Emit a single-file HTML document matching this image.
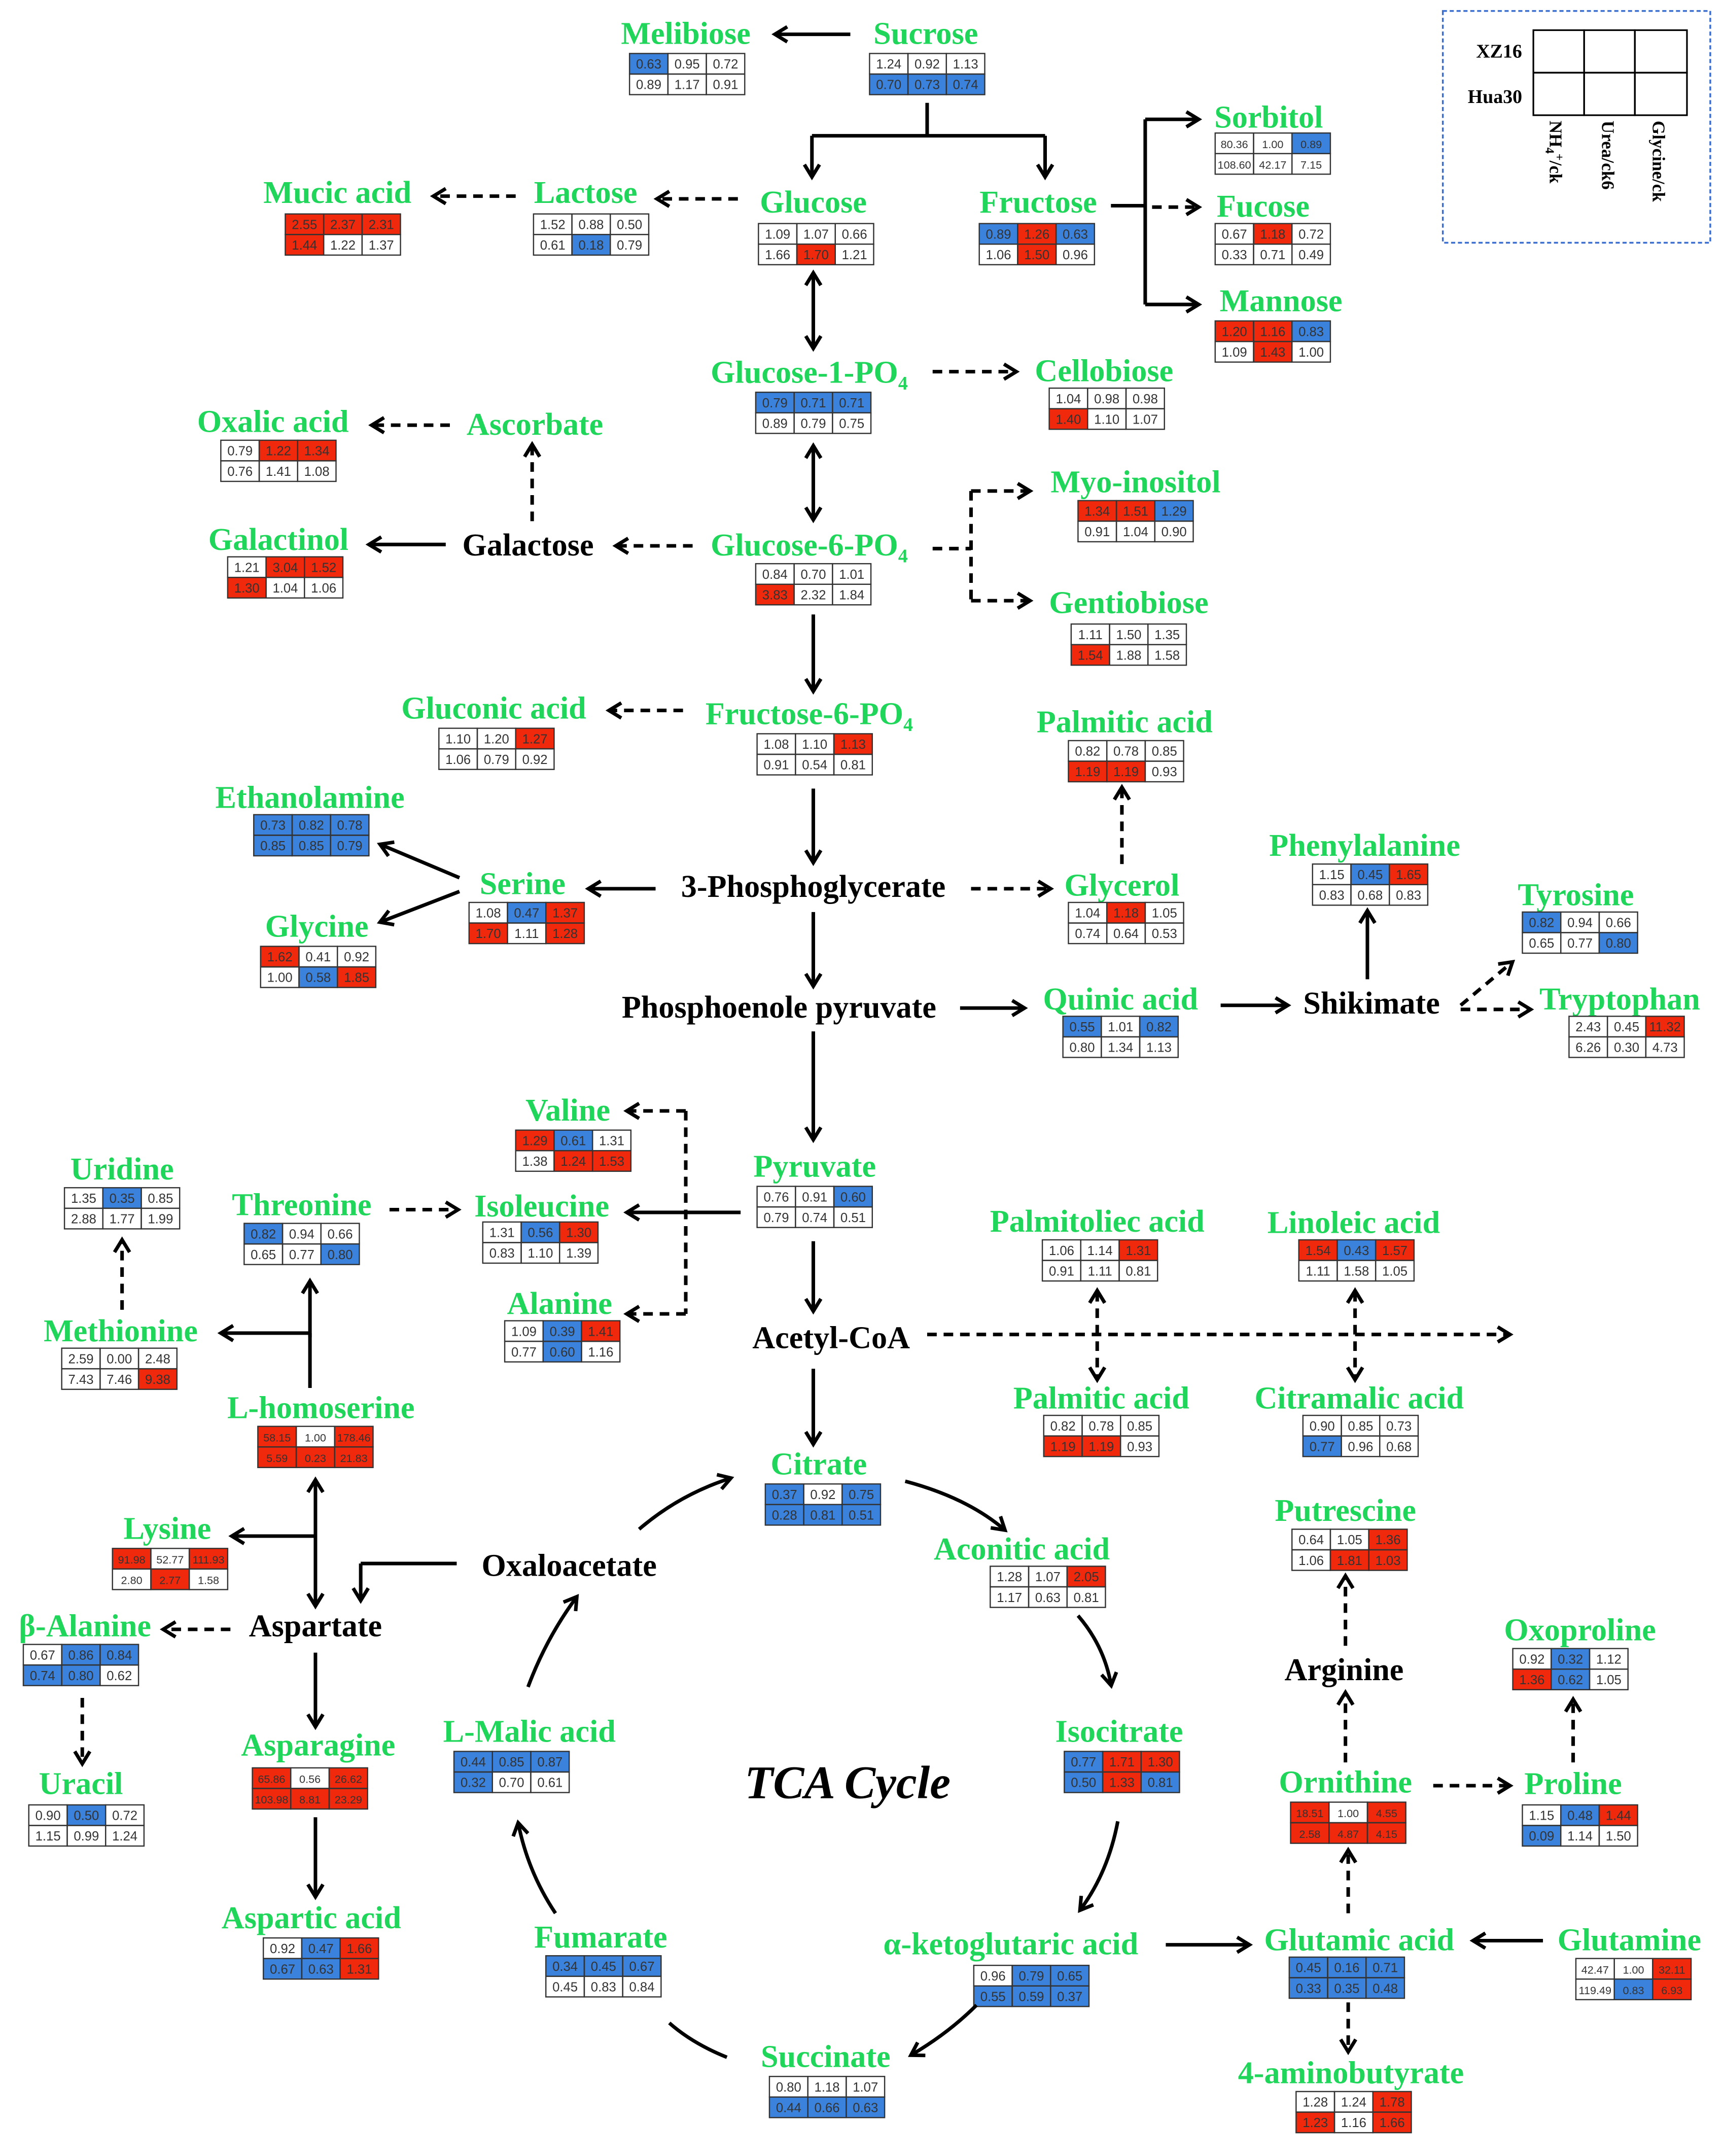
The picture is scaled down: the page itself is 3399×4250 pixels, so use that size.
<!DOCTYPE html>
<html><head><meta charset="utf-8"><style>
html,body{margin:0;padding:0;background:#fff}
svg{display:block}
.g{fill:#1fd65a;font-family:"Liberation Serif",serif;font-weight:bold;font-size:23px;text-anchor:middle}
.k{fill:#000;font-family:"Liberation Serif",serif;font-weight:bold;font-size:23px;text-anchor:middle}
.v{fill:#333;font-family:"Liberation Sans",sans-serif;font-size:9.5px;text-anchor:middle}
.s{font-size:8px}
.r{fill:#f0290c}
.b{fill:#3a82dc}
.l{stroke:#000;stroke-width:2.6;fill:none;marker-end:url(#a)}
.d{stroke:#000;stroke-width:2.6;fill:none;stroke-dasharray:7,5;marker-end:url(#a)}
.n{stroke:#000;stroke-width:2.6;fill:none}
.nd{stroke:#000;stroke-width:2.6;fill:none;stroke-dasharray:7,5}
.bi{marker-start:url(#a)}
</style></head><body>
<svg xmlns="http://www.w3.org/2000/svg" width="3399" height="4250" viewBox="0 0 1257 1572" preserveAspectRatio="none">
<defs>
<marker id="a" markerUnits="userSpaceOnUse" markerWidth="14" markerHeight="14" refX="10" refY="7" orient="auto-start-reverse"><path d="M2,1.5 L11,7 L2,12.5" stroke="#000" stroke-width="2.6" fill="none"/></marker>
<g id="tb" fill="none" stroke="#333" stroke-width="0.9"><rect x="0" y="0" width="28" height="15"/><rect x="28" y="0" width="28" height="15"/><rect x="56" y="0" width="28" height="15"/><rect x="0" y="15" width="28" height="15"/><rect x="28" y="15" width="28" height="15"/><rect x="56" y="15" width="28" height="15"/></g>
</defs>
<rect width="1257" height="1572" fill="#fff"/>

<!-- Legend -->
<rect x="1052" y="8" width="195" height="169" fill="none" stroke="#3a6fd0" stroke-width="1.3" stroke-dasharray="3,2"/>
<g fill="none" stroke="#000" stroke-width="1.2"><rect x="1118" y="22" width="37" height="31"/><rect x="1155" y="22" width="37" height="31"/><rect x="1192" y="22" width="38" height="31"/><rect x="1118" y="53" width="37" height="31"/><rect x="1155" y="53" width="37" height="31"/><rect x="1192" y="53" width="38" height="31"/></g>
<text x="1093" y="42" class="k" style="font-size:14px">XZ16</text>
<text x="1090" y="75" class="k" style="font-size:14px">Hua30</text>
<text class="k" style="font-size:13px;text-anchor:start" transform="translate(1130,88) rotate(90)">NH<tspan font-size="9" dy="3">4</tspan><tspan font-size="9" dy="-7">+</tspan><tspan dy="4">/ck</tspan></text>
<text class="k" style="font-size:13px;text-anchor:start" transform="translate(1168,88) rotate(90)">Urea/ck6</text>
<text class="k" style="font-size:13px;text-anchor:start" transform="translate(1205,88) rotate(90)">Glycine/ck</text>

<!-- Labels -->
<text class="g" x="500" y="32">Melibiose</text>
<text class="g" x="675" y="32">Sucrose</text>
<text class="g" x="925" y="93">Sorbitol</text>
<text class="g" x="246" y="148">Mucic acid</text>
<text class="g" x="427" y="148">Lactose</text>
<text class="g" x="593" y="155">Glucose</text>
<text class="g" x="757" y="155">Fructose</text>
<text class="g" x="921" y="158">Fucose</text>
<text class="g" x="934" y="227">Mannose</text>
<text class="g" x="590" y="279">Glucose-1-PO<tspan font-size="14" dy="5">4</tspan></text>
<text class="g" x="805" y="278">Cellobiose</text>
<text class="g" x="199" y="315">Oxalic acid</text>
<text class="g" x="390" y="317">Ascorbate</text>
<text class="g" x="828" y="359">Myo-inositol</text>
<text class="g" x="203" y="401">Galactinol</text>
<text class="k" x="385" y="405">Galactose</text>
<text class="g" x="590" y="405">Glucose-6-PO<tspan font-size="14" dy="5">4</tspan></text>
<text class="g" x="823" y="447">Gentiobiose</text>
<text class="g" x="360" y="524">Gluconic acid</text>
<text class="g" x="590" y="528">Fructose-6-PO<tspan font-size="14" dy="5">4</tspan></text>
<text class="g" x="820" y="534">Palmitic acid</text>
<text class="g" x="226" y="589">Ethanolamine</text>
<text class="g" x="381" y="652">Serine</text>
<text class="k" x="593" y="654">3-Phosphoglycerate</text>
<text class="g" x="818" y="653">Glycerol</text>
<text class="g" x="995" y="624">Phenylalanine</text>
<text class="g" x="231" y="683">Glycine</text>
<text class="g" x="1149" y="660">Tyrosine</text>
<text class="k" x="568" y="742">Phosphoenole pyruvate</text>
<text class="g" x="817" y="736">Quinic acid</text>
<text class="k" x="1000" y="739">Shikimate</text>
<text class="g" x="1181" y="736">Tryptophan</text>
<text class="g" x="414" y="817">Valine</text>
<text class="g" x="89" y="860">Uridine</text>
<text class="g" x="594" y="858">Pyruvate</text>
<text class="g" x="220" y="886">Threonine</text>
<text class="g" x="395" y="887">Isoleucine</text>
<text class="g" x="800" y="898">Palmitoliec acid</text>
<text class="g" x="987" y="899">Linoleic acid</text>
<text class="g" x="408" y="958">Alanine</text>
<text class="k" x="606" y="983">Acetyl-CoA</text>
<text class="g" x="88" y="978">Methionine</text>
<text class="g" x="803" y="1027">Palmitic acid</text>
<text class="g" x="991" y="1027">Citramalic acid</text>
<text class="g" x="234" y="1034">L-homoserine</text>
<text class="g" x="597" y="1075">Citrate</text>
<text class="g" x="981" y="1109">Putrescine</text>
<text class="g" x="122" y="1122">Lysine</text>
<text class="g" x="745" y="1137">Aconitic acid</text>
<text class="k" x="415" y="1149">Oxaloacetate</text>
<text class="g" x="62" y="1193">β-Alanine</text>
<text class="k" x="230" y="1193">Aspartate</text>
<text class="g" x="1152" y="1196">Oxoproline</text>
<text class="k" x="980" y="1225">Arginine</text>
<text class="g" x="232" y="1280">Asparagine</text>
<text class="g" x="386" y="1270">L-Malic acid</text>
<text class="g" x="816" y="1270">Isocitrate</text>
<text class="g" x="59" y="1308">Uracil</text>
<text class="k" x="618" y="1311" style="font-style:italic;font-size:34px">TCA Cycle</text>
<text class="g" x="981" y="1307">Ornithine</text>
<text class="g" x="1147" y="1308">Proline</text>
<text class="g" x="227" y="1406">Aspartic acid</text>
<text class="g" x="438" y="1420">Fumarate</text>
<text class="g" x="737" y="1425">α-ketoglutaric acid</text>
<text class="g" x="991" y="1422">Glutamic acid</text>
<text class="g" x="1188" y="1422">Glutamine</text>
<text class="g" x="602" y="1507">Succinate</text>
<text class="g" x="985" y="1519">4-aminobutyrate</text>

<!-- Tables -->
<g transform="translate(459,39)"><rect class="b" x="0" y="0" width="28" height="15"/><use href="#tb"/><text class="v" y="11"><tspan x="14">0.63</tspan><tspan x="42">0.95</tspan><tspan x="70">0.72</tspan></text><text class="v" y="26"><tspan x="14">0.89</tspan><tspan x="42">1.17</tspan><tspan x="70">0.91</tspan></text></g>
<g transform="translate(634,39)"><rect class="b" x="0" y="15" width="84" height="15"/><use href="#tb"/><text class="v" y="11"><tspan x="14">1.24</tspan><tspan x="42">0.92</tspan><tspan x="70">1.13</tspan></text><text class="v" y="26"><tspan x="14">0.70</tspan><tspan x="42">0.73</tspan><tspan x="70">0.74</tspan></text></g>
<g transform="translate(886,97)"><rect class="b" x="56" y="0" width="28" height="15"/><use href="#tb"/><text class="v s" y="11"><tspan x="14">80.36</tspan><tspan x="42">1.00</tspan><tspan x="70">0.89</tspan></text><text class="v s" y="26"><tspan x="14">108.60</tspan><tspan x="42">42.17</tspan><tspan x="70">7.15</tspan></text></g>
<g transform="translate(208,156)"><rect class="r" x="0" y="0" width="84" height="15"/><rect class="r" x="0" y="15" width="28" height="15"/><use href="#tb"/><text class="v" y="11"><tspan x="14">2.55</tspan><tspan x="42">2.37</tspan><tspan x="70">2.31</tspan></text><text class="v" y="26"><tspan x="14">1.44</tspan><tspan x="42">1.22</tspan><tspan x="70">1.37</tspan></text></g>
<g transform="translate(389,156)"><rect class="b" x="28" y="15" width="28" height="15"/><use href="#tb"/><text class="v" y="11"><tspan x="14">1.52</tspan><tspan x="42">0.88</tspan><tspan x="70">0.50</tspan></text><text class="v" y="26"><tspan x="14">0.61</tspan><tspan x="42">0.18</tspan><tspan x="70">0.79</tspan></text></g>
<g transform="translate(553,163)"><rect class="r" x="28" y="15" width="28" height="15"/><use href="#tb"/><text class="v" y="11"><tspan x="14">1.09</tspan><tspan x="42">1.07</tspan><tspan x="70">0.66</tspan></text><text class="v" y="26"><tspan x="14">1.66</tspan><tspan x="42">1.70</tspan><tspan x="70">1.21</tspan></text></g>
<g transform="translate(714,163)"><rect class="b" x="0" y="0" width="28" height="15"/><rect class="r" x="28" y="0" width="28" height="15"/><rect class="b" x="56" y="0" width="28" height="15"/><rect class="r" x="28" y="15" width="28" height="15"/><use href="#tb"/><text class="v" y="11"><tspan x="14">0.89</tspan><tspan x="42">1.26</tspan><tspan x="70">0.63</tspan></text><text class="v" y="26"><tspan x="14">1.06</tspan><tspan x="42">1.50</tspan><tspan x="70">0.96</tspan></text></g>
<g transform="translate(886,163)"><rect class="r" x="28" y="0" width="28" height="15"/><use href="#tb"/><text class="v" y="11"><tspan x="14">0.67</tspan><tspan x="42">1.18</tspan><tspan x="70">0.72</tspan></text><text class="v" y="26"><tspan x="14">0.33</tspan><tspan x="42">0.71</tspan><tspan x="70">0.49</tspan></text></g>
<g transform="translate(886,234)"><rect class="r" x="0" y="0" width="56" height="15"/><rect class="b" x="56" y="0" width="28" height="15"/><rect class="r" x="28" y="15" width="28" height="15"/><use href="#tb"/><text class="v" y="11"><tspan x="14">1.20</tspan><tspan x="42">1.16</tspan><tspan x="70">0.83</tspan></text><text class="v" y="26"><tspan x="14">1.09</tspan><tspan x="42">1.43</tspan><tspan x="70">1.00</tspan></text></g>
<g transform="translate(551,286)"><rect class="b" x="0" y="0" width="84" height="15"/><use href="#tb"/><text class="v" y="11"><tspan x="14">0.79</tspan><tspan x="42">0.71</tspan><tspan x="70">0.71</tspan></text><text class="v" y="26"><tspan x="14">0.89</tspan><tspan x="42">0.79</tspan><tspan x="70">0.75</tspan></text></g>
<g transform="translate(765,283)"><rect class="r" x="0" y="15" width="28" height="15"/><use href="#tb"/><text class="v" y="11"><tspan x="14">1.04</tspan><tspan x="42">0.98</tspan><tspan x="70">0.98</tspan></text><text class="v" y="26"><tspan x="14">1.40</tspan><tspan x="42">1.10</tspan><tspan x="70">1.07</tspan></text></g>
<g transform="translate(161,321)"><rect class="r" x="28" y="0" width="56" height="15"/><use href="#tb"/><text class="v" y="11"><tspan x="14">0.79</tspan><tspan x="42">1.22</tspan><tspan x="70">1.34</tspan></text><text class="v" y="26"><tspan x="14">0.76</tspan><tspan x="42">1.41</tspan><tspan x="70">1.08</tspan></text></g>
<g transform="translate(786,365)"><rect class="r" x="0" y="0" width="56" height="15"/><rect class="b" x="56" y="0" width="28" height="15"/><use href="#tb"/><text class="v" y="11"><tspan x="14">1.34</tspan><tspan x="42">1.51</tspan><tspan x="70">1.29</tspan></text><text class="v" y="26"><tspan x="14">0.91</tspan><tspan x="42">1.04</tspan><tspan x="70">0.90</tspan></text></g>
<g transform="translate(166,406)"><rect class="r" x="28" y="0" width="56" height="15"/><rect class="r" x="0" y="15" width="28" height="15"/><use href="#tb"/><text class="v" y="11"><tspan x="14">1.21</tspan><tspan x="42">3.04</tspan><tspan x="70">1.52</tspan></text><text class="v" y="26"><tspan x="14">1.30</tspan><tspan x="42">1.04</tspan><tspan x="70">1.06</tspan></text></g>
<g transform="translate(551,411)"><rect class="r" x="0" y="15" width="28" height="15"/><use href="#tb"/><text class="v" y="11"><tspan x="14">0.84</tspan><tspan x="42">0.70</tspan><tspan x="70">1.01</tspan></text><text class="v" y="26"><tspan x="14">3.83</tspan><tspan x="42">2.32</tspan><tspan x="70">1.84</tspan></text></g>
<g transform="translate(781,455)"><rect class="r" x="0" y="15" width="28" height="15"/><use href="#tb"/><text class="v" y="11"><tspan x="14">1.11</tspan><tspan x="42">1.50</tspan><tspan x="70">1.35</tspan></text><text class="v" y="26"><tspan x="14">1.54</tspan><tspan x="42">1.88</tspan><tspan x="70">1.58</tspan></text></g>
<g transform="translate(320,531)"><rect class="r" x="56" y="0" width="28" height="15"/><use href="#tb"/><text class="v" y="11"><tspan x="14">1.10</tspan><tspan x="42">1.20</tspan><tspan x="70">1.27</tspan></text><text class="v" y="26"><tspan x="14">1.06</tspan><tspan x="42">0.79</tspan><tspan x="70">0.92</tspan></text></g>
<g transform="translate(552,535)"><rect class="r" x="56" y="0" width="28" height="15"/><use href="#tb"/><text class="v" y="11"><tspan x="14">1.08</tspan><tspan x="42">1.10</tspan><tspan x="70">1.13</tspan></text><text class="v" y="26"><tspan x="14">0.91</tspan><tspan x="42">0.54</tspan><tspan x="70">0.81</tspan></text></g>
<g transform="translate(779,540)"><rect class="r" x="0" y="15" width="56" height="15"/><use href="#tb"/><text class="v" y="11"><tspan x="14">0.82</tspan><tspan x="42">0.78</tspan><tspan x="70">0.85</tspan></text><text class="v" y="26"><tspan x="14">1.19</tspan><tspan x="42">1.19</tspan><tspan x="70">0.93</tspan></text></g>
<g transform="translate(185,594)"><rect class="b" x="0" y="0" width="84" height="30"/><use href="#tb"/><text class="v" y="11"><tspan x="14">0.73</tspan><tspan x="42">0.82</tspan><tspan x="70">0.78</tspan></text><text class="v" y="26"><tspan x="14">0.85</tspan><tspan x="42">0.85</tspan><tspan x="70">0.79</tspan></text></g>
<g transform="translate(342,658)"><rect class="b" x="28" y="0" width="28" height="15"/><rect class="r" x="56" y="0" width="28" height="15"/><rect class="r" x="0" y="15" width="28" height="15"/><rect class="r" x="56" y="15" width="28" height="15"/><use href="#tb"/><text class="v" y="11"><tspan x="14">1.08</tspan><tspan x="42">0.47</tspan><tspan x="70">1.37</tspan></text><text class="v" y="26"><tspan x="14">1.70</tspan><tspan x="42">1.11</tspan><tspan x="70">1.28</tspan></text></g>
<g transform="translate(779,658)"><rect class="r" x="28" y="0" width="28" height="15"/><use href="#tb"/><text class="v" y="11"><tspan x="14">1.04</tspan><tspan x="42">1.18</tspan><tspan x="70">1.05</tspan></text><text class="v" y="26"><tspan x="14">0.74</tspan><tspan x="42">0.64</tspan><tspan x="70">0.53</tspan></text></g>
<g transform="translate(957,630)"><rect class="b" x="28" y="0" width="28" height="15"/><rect class="r" x="56" y="0" width="28" height="15"/><use href="#tb"/><text class="v" y="11"><tspan x="14">1.15</tspan><tspan x="42">0.45</tspan><tspan x="70">1.65</tspan></text><text class="v" y="26"><tspan x="14">0.83</tspan><tspan x="42">0.68</tspan><tspan x="70">0.83</tspan></text></g>
<g transform="translate(190,690)"><rect class="r" x="0" y="0" width="28" height="15"/><rect class="b" x="28" y="15" width="28" height="15"/><rect class="r" x="56" y="15" width="28" height="15"/><use href="#tb"/><text class="v" y="11"><tspan x="14">1.62</tspan><tspan x="42">0.41</tspan><tspan x="70">0.92</tspan></text><text class="v" y="26"><tspan x="14">1.00</tspan><tspan x="42">0.58</tspan><tspan x="70">1.85</tspan></text></g>
<g transform="translate(1110,665)"><rect class="b" x="0" y="0" width="28" height="15"/><rect class="b" x="56" y="15" width="28" height="15"/><use href="#tb"/><text class="v" y="11"><tspan x="14">0.82</tspan><tspan x="42">0.94</tspan><tspan x="70">0.66</tspan></text><text class="v" y="26"><tspan x="14">0.65</tspan><tspan x="42">0.77</tspan><tspan x="70">0.80</tspan></text></g>
<g transform="translate(775,741)"><rect class="b" x="0" y="0" width="28" height="15"/><rect class="b" x="56" y="0" width="28" height="15"/><use href="#tb"/><text class="v" y="11"><tspan x="14">0.55</tspan><tspan x="42">1.01</tspan><tspan x="70">0.82</tspan></text><text class="v" y="26"><tspan x="14">0.80</tspan><tspan x="42">1.34</tspan><tspan x="70">1.13</tspan></text></g>
<g transform="translate(1144,741)"><rect class="r" x="56" y="0" width="28" height="15"/><use href="#tb"/><text class="v" y="11"><tspan x="14">2.43</tspan><tspan x="42">0.45</tspan><tspan x="70">11.32</tspan></text><text class="v" y="26"><tspan x="14">6.26</tspan><tspan x="42">0.30</tspan><tspan x="70">4.73</tspan></text></g>
<g transform="translate(376,824)"><rect class="r" x="0" y="0" width="28" height="15"/><rect class="b" x="28" y="0" width="28" height="15"/><rect class="r" x="28" y="15" width="56" height="15"/><use href="#tb"/><text class="v" y="11"><tspan x="14">1.29</tspan><tspan x="42">0.61</tspan><tspan x="70">1.31</tspan></text><text class="v" y="26"><tspan x="14">1.38</tspan><tspan x="42">1.24</tspan><tspan x="70">1.53</tspan></text></g>
<g transform="translate(47,866)"><rect class="b" x="28" y="0" width="28" height="15"/><use href="#tb"/><text class="v" y="11"><tspan x="14">1.35</tspan><tspan x="42">0.35</tspan><tspan x="70">0.85</tspan></text><text class="v" y="26"><tspan x="14">2.88</tspan><tspan x="42">1.77</tspan><tspan x="70">1.99</tspan></text></g>
<g transform="translate(552,865)"><rect class="b" x="56" y="0" width="28" height="15"/><use href="#tb"/><text class="v" y="11"><tspan x="14">0.76</tspan><tspan x="42">0.91</tspan><tspan x="70">0.60</tspan></text><text class="v" y="26"><tspan x="14">0.79</tspan><tspan x="42">0.74</tspan><tspan x="70">0.51</tspan></text></g>
<g transform="translate(178,892)"><rect class="b" x="0" y="0" width="28" height="15"/><rect class="b" x="56" y="15" width="28" height="15"/><use href="#tb"/><text class="v" y="11"><tspan x="14">0.82</tspan><tspan x="42">0.94</tspan><tspan x="70">0.66</tspan></text><text class="v" y="26"><tspan x="14">0.65</tspan><tspan x="42">0.77</tspan><tspan x="70">0.80</tspan></text></g>
<g transform="translate(352,891)"><rect class="b" x="28" y="0" width="28" height="15"/><rect class="r" x="56" y="0" width="28" height="15"/><use href="#tb"/><text class="v" y="11"><tspan x="14">1.31</tspan><tspan x="42">0.56</tspan><tspan x="70">1.30</tspan></text><text class="v" y="26"><tspan x="14">0.83</tspan><tspan x="42">1.10</tspan><tspan x="70">1.39</tspan></text></g>
<g transform="translate(760,904)"><rect class="r" x="56" y="0" width="28" height="15"/><use href="#tb"/><text class="v" y="11"><tspan x="14">1.06</tspan><tspan x="42">1.14</tspan><tspan x="70">1.31</tspan></text><text class="v" y="26"><tspan x="14">0.91</tspan><tspan x="42">1.11</tspan><tspan x="70">0.81</tspan></text></g>
<g transform="translate(947,904)"><rect class="r" x="0" y="0" width="28" height="15"/><rect class="b" x="28" y="0" width="28" height="15"/><rect class="r" x="56" y="0" width="28" height="15"/><use href="#tb"/><text class="v" y="11"><tspan x="14">1.54</tspan><tspan x="42">0.43</tspan><tspan x="70">1.57</tspan></text><text class="v" y="26"><tspan x="14">1.11</tspan><tspan x="42">1.58</tspan><tspan x="70">1.05</tspan></text></g>
<g transform="translate(368,963)"><rect class="b" x="28" y="0" width="28" height="15"/><rect class="r" x="56" y="0" width="28" height="15"/><rect class="b" x="28" y="15" width="28" height="15"/><use href="#tb"/><text class="v" y="11"><tspan x="14">1.09</tspan><tspan x="42">0.39</tspan><tspan x="70">1.41</tspan></text><text class="v" y="26"><tspan x="14">0.77</tspan><tspan x="42">0.60</tspan><tspan x="70">1.16</tspan></text></g>
<g transform="translate(45,983)"><rect class="r" x="56" y="15" width="28" height="15"/><use href="#tb"/><text class="v" y="11"><tspan x="14">2.59</tspan><tspan x="42">0.00</tspan><tspan x="70">2.48</tspan></text><text class="v" y="26"><tspan x="14">7.43</tspan><tspan x="42">7.46</tspan><tspan x="70">9.38</tspan></text></g>
<g transform="translate(761,1032)"><rect class="r" x="0" y="15" width="56" height="15"/><use href="#tb"/><text class="v" y="11"><tspan x="14">0.82</tspan><tspan x="42">0.78</tspan><tspan x="70">0.85</tspan></text><text class="v" y="26"><tspan x="14">1.19</tspan><tspan x="42">1.19</tspan><tspan x="70">0.93</tspan></text></g>
<g transform="translate(950,1032)"><rect class="b" x="0" y="15" width="28" height="15"/><use href="#tb"/><text class="v" y="11"><tspan x="14">0.90</tspan><tspan x="42">0.85</tspan><tspan x="70">0.73</tspan></text><text class="v" y="26"><tspan x="14">0.77</tspan><tspan x="42">0.96</tspan><tspan x="70">0.68</tspan></text></g>
<g transform="translate(188,1040)"><rect class="r" x="0" y="0" width="28" height="15"/><rect class="r" x="56" y="0" width="28" height="15"/><rect class="r" x="0" y="15" width="84" height="15"/><use href="#tb"/><text class="v s" y="11"><tspan x="14">58.15</tspan><tspan x="42">1.00</tspan><tspan x="70">178.46</tspan></text><text class="v s" y="26"><tspan x="14">5.59</tspan><tspan x="42">0.23</tspan><tspan x="70">21.83</tspan></text></g>
<g transform="translate(558,1082)"><rect class="b" x="0" y="0" width="28" height="15"/><rect class="b" x="56" y="0" width="28" height="15"/><rect class="b" x="0" y="15" width="84" height="15"/><use href="#tb"/><text class="v" y="11"><tspan x="14">0.37</tspan><tspan x="42">0.92</tspan><tspan x="70">0.75</tspan></text><text class="v" y="26"><tspan x="14">0.28</tspan><tspan x="42">0.81</tspan><tspan x="70">0.51</tspan></text></g>
<g transform="translate(942,1115)"><rect class="r" x="56" y="0" width="28" height="15"/><rect class="r" x="28" y="15" width="56" height="15"/><use href="#tb"/><text class="v" y="11"><tspan x="14">0.64</tspan><tspan x="42">1.05</tspan><tspan x="70">1.36</tspan></text><text class="v" y="26"><tspan x="14">1.06</tspan><tspan x="42">1.81</tspan><tspan x="70">1.03</tspan></text></g>
<g transform="translate(82,1129)"><rect class="r" x="0" y="0" width="28" height="15"/><rect class="r" x="56" y="0" width="28" height="15"/><rect class="r" x="28" y="15" width="28" height="15"/><use href="#tb"/><text class="v s" y="11"><tspan x="14">91.98</tspan><tspan x="42">52.77</tspan><tspan x="70">111.93</tspan></text><text class="v s" y="26"><tspan x="14">2.80</tspan><tspan x="42">2.77</tspan><tspan x="70">1.58</tspan></text></g>
<g transform="translate(722,1142)"><rect class="r" x="56" y="0" width="28" height="15"/><use href="#tb"/><text class="v" y="11"><tspan x="14">1.28</tspan><tspan x="42">1.07</tspan><tspan x="70">2.05</tspan></text><text class="v" y="26"><tspan x="14">1.17</tspan><tspan x="42">0.63</tspan><tspan x="70">0.81</tspan></text></g>
<g transform="translate(17,1199)"><rect class="b" x="28" y="0" width="56" height="15"/><rect class="b" x="0" y="15" width="56" height="15"/><use href="#tb"/><text class="v" y="11"><tspan x="14">0.67</tspan><tspan x="42">0.86</tspan><tspan x="70">0.84</tspan></text><text class="v" y="26"><tspan x="14">0.74</tspan><tspan x="42">0.80</tspan><tspan x="70">0.62</tspan></text></g>
<g transform="translate(1103,1202)"><rect class="b" x="28" y="0" width="28" height="15"/><rect class="r" x="0" y="15" width="28" height="15"/><rect class="b" x="28" y="15" width="28" height="15"/><use href="#tb"/><text class="v" y="11"><tspan x="14">0.92</tspan><tspan x="42">0.32</tspan><tspan x="70">1.12</tspan></text><text class="v" y="26"><tspan x="14">1.36</tspan><tspan x="42">0.62</tspan><tspan x="70">1.05</tspan></text></g>
<g transform="translate(184,1289)"><rect class="r" x="0" y="0" width="28" height="15"/><rect class="r" x="56" y="0" width="28" height="15"/><rect class="r" x="0" y="15" width="84" height="15"/><use href="#tb"/><text class="v s" y="11"><tspan x="14">65.86</tspan><tspan x="42">0.56</tspan><tspan x="70">26.62</tspan></text><text class="v s" y="26"><tspan x="14">103.98</tspan><tspan x="42">8.81</tspan><tspan x="70">23.29</tspan></text></g>
<g transform="translate(331,1277)"><rect class="b" x="0" y="0" width="84" height="15"/><rect class="b" x="0" y="15" width="28" height="15"/><use href="#tb"/><text class="v" y="11"><tspan x="14">0.44</tspan><tspan x="42">0.85</tspan><tspan x="70">0.87</tspan></text><text class="v" y="26"><tspan x="14">0.32</tspan><tspan x="42">0.70</tspan><tspan x="70">0.61</tspan></text></g>
<g transform="translate(776,1277)"><rect class="b" x="0" y="0" width="28" height="15"/><rect class="r" x="28" y="0" width="56" height="15"/><rect class="b" x="0" y="15" width="28" height="15"/><rect class="r" x="28" y="15" width="28" height="15"/><rect class="b" x="56" y="15" width="28" height="15"/><use href="#tb"/><text class="v" y="11"><tspan x="14">0.77</tspan><tspan x="42">1.71</tspan><tspan x="70">1.30</tspan></text><text class="v" y="26"><tspan x="14">0.50</tspan><tspan x="42">1.33</tspan><tspan x="70">0.81</tspan></text></g>
<g transform="translate(21,1316)"><rect class="b" x="28" y="0" width="28" height="15"/><use href="#tb"/><text class="v" y="11"><tspan x="14">0.90</tspan><tspan x="42">0.50</tspan><tspan x="70">0.72</tspan></text><text class="v" y="26"><tspan x="14">1.15</tspan><tspan x="42">0.99</tspan><tspan x="70">1.24</tspan></text></g>
<g transform="translate(941,1314)"><rect class="r" x="0" y="0" width="28" height="15"/><rect class="r" x="56" y="0" width="28" height="15"/><rect class="r" x="0" y="15" width="84" height="15"/><use href="#tb"/><text class="v s" y="11"><tspan x="14">18.51</tspan><tspan x="42">1.00</tspan><tspan x="70">4.55</tspan></text><text class="v s" y="26"><tspan x="14">2.58</tspan><tspan x="42">4.87</tspan><tspan x="70">4.15</tspan></text></g>
<g transform="translate(1110,1316)"><rect class="b" x="28" y="0" width="28" height="15"/><rect class="r" x="56" y="0" width="28" height="15"/><rect class="b" x="0" y="15" width="28" height="15"/><use href="#tb"/><text class="v" y="11"><tspan x="14">1.15</tspan><tspan x="42">0.48</tspan><tspan x="70">1.44</tspan></text><text class="v" y="26"><tspan x="14">0.09</tspan><tspan x="42">1.14</tspan><tspan x="70">1.50</tspan></text></g>
<g transform="translate(192,1413)"><rect class="b" x="28" y="0" width="28" height="15"/><rect class="r" x="56" y="0" width="28" height="15"/><rect class="b" x="0" y="15" width="56" height="15"/><rect class="r" x="56" y="15" width="28" height="15"/><use href="#tb"/><text class="v" y="11"><tspan x="14">0.92</tspan><tspan x="42">0.47</tspan><tspan x="70">1.66</tspan></text><text class="v" y="26"><tspan x="14">0.67</tspan><tspan x="42">0.63</tspan><tspan x="70">1.31</tspan></text></g>
<g transform="translate(398,1426)"><rect class="b" x="0" y="0" width="84" height="15"/><use href="#tb"/><text class="v" y="11"><tspan x="14">0.34</tspan><tspan x="42">0.45</tspan><tspan x="70">0.67</tspan></text><text class="v" y="26"><tspan x="14">0.45</tspan><tspan x="42">0.83</tspan><tspan x="70">0.84</tspan></text></g>
<g transform="translate(710,1433)"><rect class="b" x="28" y="0" width="56" height="15"/><rect class="b" x="0" y="15" width="84" height="15"/><use href="#tb"/><text class="v" y="11"><tspan x="14">0.96</tspan><tspan x="42">0.79</tspan><tspan x="70">0.65</tspan></text><text class="v" y="26"><tspan x="14">0.55</tspan><tspan x="42">0.59</tspan><tspan x="70">0.37</tspan></text></g>
<g transform="translate(940,1427)"><rect class="b" x="0" y="0" width="84" height="30"/><use href="#tb"/><text class="v" y="11"><tspan x="14">0.45</tspan><tspan x="42">0.16</tspan><tspan x="70">0.71</tspan></text><text class="v" y="26"><tspan x="14">0.33</tspan><tspan x="42">0.35</tspan><tspan x="70">0.48</tspan></text></g>
<g transform="translate(1149,1428)"><rect class="r" x="56" y="0" width="28" height="15"/><rect class="b" x="28" y="15" width="28" height="15"/><rect class="r" x="56" y="15" width="28" height="15"/><use href="#tb"/><text class="v s" y="11"><tspan x="14">42.47</tspan><tspan x="42">1.00</tspan><tspan x="70">32.11</tspan></text><text class="v s" y="26"><tspan x="14">119.49</tspan><tspan x="42">0.83</tspan><tspan x="70">6.93</tspan></text></g>
<g transform="translate(561,1514)"><rect class="b" x="0" y="15" width="84" height="15"/><use href="#tb"/><text class="v" y="11"><tspan x="14">0.80</tspan><tspan x="42">1.18</tspan><tspan x="70">1.07</tspan></text><text class="v" y="26"><tspan x="14">0.44</tspan><tspan x="42">0.66</tspan><tspan x="70">0.63</tspan></text></g>
<g transform="translate(945,1525)"><rect class="r" x="56" y="0" width="28" height="15"/><rect class="r" x="0" y="15" width="28" height="15"/><rect class="r" x="56" y="15" width="28" height="15"/><use href="#tb"/><text class="v" y="11"><tspan x="14">1.28</tspan><tspan x="42">1.24</tspan><tspan x="70">1.78</tspan></text><text class="v" y="26"><tspan x="14">1.23</tspan><tspan x="42">1.16</tspan><tspan x="70">1.66</tspan></text></g>

<!-- Connectors -->
<path class="l" d="M620,25 L566,25"/>
<path class="n" d="M676,75 V99 M592,99 H762"/>
<path class="l" d="M592,99 V128"/><path class="l" d="M762,99 V128"/>
<path class="n" d="M810,150 H835 M835,87 V222"/>
<path class="l" d="M835,87 H873"/><path class="l" d="M835,222 H873"/><path class="d" d="M840,151 H873"/>
<path class="d" d="M376,143 H317"/>
<path class="d" d="M538,145 H480"/>
<path class="l bi" d="M593,200 V253"/>
<path class="d" d="M680,271 H740"/>
<path class="l bi" d="M593,326 V378"/>
<path class="d" d="M328,310 H272"/>
<path class="d" d="M388,380 V325"/>
<path class="l" d="M325,397 H270"/>
<path class="d" d="M505,398 H450"/>
<path class="nd" d="M680,400 H708 M708,358 V438"/>
<path class="d" d="M708,358 H750"/><path class="d" d="M708,438 H750"/>
<path class="l" d="M593,448 V503"/>
<path class="d" d="M498,518 H445"/>
<path class="l" d="M593,575 V628"/>
<path class="l" d="M478,648 H430"/>
<path class="d" d="M708,648 H765"/>
<path class="d" d="M818,630 V575"/>
<path class="l" d="M335,640 L278,616"/>
<path class="l" d="M335,650 L278,672"/>
<path class="l" d="M593,665 V718"/>
<path class="l" d="M700,735 H746"/>
<path class="l" d="M890,733 H938"/>
<path class="l" d="M997,714 V665"/>
<path class="d" d="M1065,733 L1102,702"/>
<path class="d" d="M1065,736 H1115"/>
<path class="l" d="M593,752 V830"/>
<path class="l" d="M540,884 H458"/>
<path class="nd" d="M500,810 V958"/>
<path class="d" d="M500,810 H458"/><path class="d" d="M500,958 H458"/>
<path class="d" d="M284,882 H333"/>
<path class="l" d="M593,905 V955"/>
<path class="d" d="M676,973 H1100"/>
<path class="d bi" d="M800,942 V1005"/>
<path class="d bi" d="M988,942 V1005"/>
<path class="l" d="M593,998 V1052"/>
<path class="l" d="M660,1080 Q705,1092 732,1115"/>
<path class="l" d="M786,1178 Q805,1200 810,1228"/>
<path class="l" d="M815,1328 Q808,1365 788,1392"/>
<path class="l" d="M712,1462 Q692,1482 665,1498"/>
<path class="n" d="M530,1500 Q505,1490 488,1475"/>
<path class="l" d="M405,1395 Q385,1365 378,1330"/>
<path class="l" d="M385,1230 Q398,1195 420,1165"/>
<path class="l" d="M466,1115 Q495,1090 532,1078"/>
<path class="n" d="M333,1140 H263"/><path class="l" d="M263,1140 V1166"/>
<path class="l bi" d="M230,1080 V1170"/>
<path class="l" d="M230,1120 H170"/>
<path class="n" d="M226,1012 V972"/><path class="l" d="M226,975 V935"/>
<path class="l" d="M226,972 H162"/>
<path class="d" d="M89,955 V905"/>
<path class="d" d="M168,1188 H120"/>
<path class="d" d="M60,1238 V1285"/>
<path class="l" d="M230,1205 V1258"/>
<path class="l" d="M230,1325 V1382"/>
<path class="l" d="M850,1418 H910"/>
<path class="l" d="M1125,1415 H1075"/>
<path class="d" d="M983,1395 V1350"/>
<path class="d" d="M983,1460 V1495"/>
<path class="d" d="M981,1285 V1235"/>
<path class="d" d="M981,1200 V1150"/>
<path class="d" d="M1045,1302 H1100"/>
<path class="d" d="M1147,1285 V1240"/>
</svg>
</body></html>
